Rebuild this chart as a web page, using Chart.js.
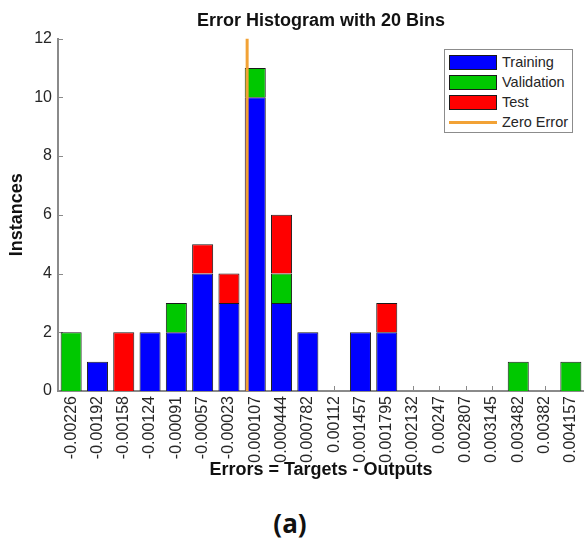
<!DOCTYPE html>
<html>
<head>
<meta charset="utf-8">
<title>Error Histogram</title>
<script src="https://cdn.jsdelivr.net/npm/chart.js"></script>
<style>
  html, body { margin: 0; padding: 0; background: #fff; }
  #wrap { position: relative; width: 584px; height: 547px; }
  #plot { position: absolute; left: 0; top: 0; width: 584px; height: 490px; }
  #legend {
    position: absolute; left: 444px; top: 49px; width: 127px; height: 82px;
    border: 1px solid #8c8c8c; background: #fff;
    font: 14.5px "Liberation Sans", Arial, sans-serif; color: #262626;
  }
  #legend .row { position: absolute; left: 4px; height: 20px; display: flex; align-items: center; }
  #legend .sw { width: 46px; height: 13px; border: 1px solid #1a1a1a; margin-right: 5px; }
  #legend .ln { width: 48px; height: 3px; margin-right: 5px; }
  #caption {
    position: absolute; left: 0; top: 505px; width: 580px; text-align: center;
    font: bold 26px "Open Sans", "Noto Sans", sans-serif; color: #111;
  }
</style>
</head>
<body>
<div id="wrap">
  <div id="plot"><canvas id="errhist"></canvas></div>
  <div id="legend"></div>
  <div id="caption">(a)</div>
</div>
<script>
// ── Histogram data (20 bins) ──────────────
const binLabels = [
  '-0.00226', '-0.00192', '-0.00158', '-0.00124', '-0.00091',
  '-0.00057', '-0.00023', '0.000107', '0.000444', '0.000782',
  '0.00112', '0.001457', '0.001795', '0.002132', '0.00247',
  '0.002807', '0.003145', '0.003482', '0.00382', '0.004157',
];
const training   = [0, 1, 0, 2, 2, 4, 3, 10, 3, 2, 0, 2, 2, 0, 0, 0, 0, 0, 0, 0];
const validation = [2, 0, 0, 0, 1, 0, 0, 1, 1, 0, 0, 0, 0, 0, 0, 0, 0, 1, 0, 1];
const test       = [0, 0, 2, 0, 0, 1, 1, 0, 2, 0, 0, 0, 1, 0, 0, 0, 0, 0, 0, 0];
const zeroError = 0;
const yTicks = [0, 2, 4, 6, 8, 10, 12];

const COLORS = {
  training: '#0000ff',
  validation: '#00c800',
  test: '#ff0000',
  zero: '#f2a235',
  axis: '#8a8a8a',
  text: '#262626',
};
const FONT = "'Liberation Sans', Arial, sans-serif";

// error value range covered by the bins, for the zero line axis
const centers = binLabels.map(Number);
const binStep = (centers[centers.length - 1] - centers[0]) / (centers.length - 1);
const errMin = centers[0] - binStep / 2;
const errMax = centers[centers.length - 1] + binStep / 2;

// ── MATLAB-style tick marks pointing into the axes ──
const innerTicks = {
  id: 'innerTicks',
  beforeDatasetsDraw(chart) {
    const { ctx, chartArea, scales } = chart;
    ctx.save();
    ctx.strokeStyle = COLORS.axis;
    ctx.lineWidth = 1;
    ctx.beginPath();
    scales.y.ticks.forEach((t, i) => {
      const y = Math.round(scales.y.getPixelForTick(i)) + 0.5;
      ctx.moveTo(chartArea.left, y);
      ctx.lineTo(chartArea.left + 5, y);
    });
    scales.x.ticks.forEach((t, i) => {
      const x = Math.round(scales.x.getPixelForTick(i)) + 0.5;
      ctx.moveTo(x, chartArea.bottom);
      ctx.lineTo(x, chartArea.bottom - 5);
    });
    ctx.stroke();
    ctx.restore();
  },
};

const barStyle = {
  borderColor: '#1a1a1a',
  borderWidth: 1,
  grouped: false,
  barPercentage: 0.8,
  categoryPercentage: 1.0,
  order: 1,
};

const chart = new Chart(document.getElementById('errhist'), {
  type: 'bar',
  data: {
    labels: binLabels,
    datasets: [
      { label: 'Training', data: training, backgroundColor: COLORS.training, ...barStyle },
      { label: 'Validation', data: validation, backgroundColor: COLORS.validation, ...barStyle },
      { label: 'Test', data: test, backgroundColor: COLORS.test, ...barStyle },
      {
        type: 'line',
        label: 'Zero Error',
        xAxisID: 'xe',
        data: [{ x: zeroError, y: yTicks[0] }, { x: zeroError, y: yTicks[yTicks.length - 1] }],
        borderColor: COLORS.zero,
        borderWidth: 3,
        pointRadius: 0,
        order: 0,
      },
    ],
  },
  options: {
    responsive: true,
    maintainAspectRatio: false,
    animation: false,
    layout: { padding: 0 },
    plugins: {
      legend: { display: false },
      tooltip: { enabled: false },
      title: {
        display: true,
        text: 'Error Histogram with 20 Bins',
        fullSize: false,
        color: '#111',
        font: { family: FONT, size: 18, weight: 'bold' },
        padding: { top: 10, bottom: 7 },
      },
    },
    scales: {
      x: {
        stacked: true,
        offset: true,
        grid: { display: false, drawTicks: false },
        border: { display: true, color: COLORS.axis, width: 2 },
        ticks: {
          autoSkip: false,
          minRotation: 90,
          maxRotation: 90,
          padding: 5,
          color: COLORS.text,
          font: { family: FONT, size: 16 },
        },
        title: {
          display: true,
          text: 'Errors = Targets - Outputs',
          color: '#111',
          font: { family: FONT, size: 18, weight: 'bold' },
          padding: { top: 0, bottom: 9 },
        },
        afterFit(scale) {
          scale.height = 99;
          scale.paddingLeft = 0;
          scale.paddingRight = 0;
        },
      },
      // hidden error-value axis sharing the plot width, carries the zero line
      xe: {
        type: 'linear',
        axis: 'x',
        position: 'bottom',
        display: false,
        offset: false,
        bounds: 'data',
        min: errMin,
        max: errMax,
      },
      y: {
        stacked: true,
        min: yTicks[0],
        max: yTicks[yTicks.length - 1],
        grid: { display: false, drawTicks: false },
        border: { display: true, color: COLORS.axis, width: 2 },
        ticks: {
          stepSize: 2,
          padding: 6,
          color: COLORS.text,
          font: { family: FONT, size: 16 },
        },
        title: {
          display: true,
          text: 'Instances',
          color: '#111',
          font: { family: FONT, size: 18, weight: 'bold' },
          padding: { top: 6, bottom: 0 },
        },
        afterFit(scale) { scale.width = 58; },
      },
    },
  },
  plugins: [innerTicks],
});

// ── Legend box built from the datasets ────
const legendEl = document.getElementById('legend');
legendEl.innerHTML = chart.data.datasets.map((ds, i) => {
  const mark = ds.type === 'line'
    ? `<span class="ln" style="background:${ds.borderColor}"></span>`
    : `<span class="sw" style="background:${ds.backgroundColor}"></span>`;
  return `<div class="row" style="top:${2 + i * 20}px">${mark}<span>${ds.label}</span></div>`;
}).join('');
</script>
</body>
</html>
